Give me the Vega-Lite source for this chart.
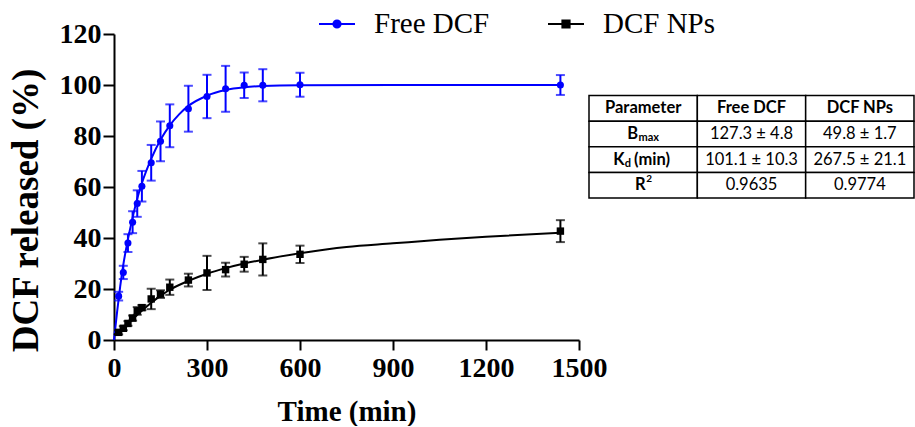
{
  "$schema": "https://vega.github.io/schema/vega-lite/v6.json",
  "background": "white",
  "padding": {"left": 7, "top": 5, "right": 0, "bottom": 0},
  "config": {"view": {"stroke": null}},
  "datasets": {
    "points": [
      {"series": "Free DCF", "t": 15, "v": 17.2, "sd": 1.7},
      {"series": "Free DCF", "t": 30, "v": 26.5, "sd": 2.6},
      {"series": "Free DCF", "t": 45, "v": 38.0, "sd": 3.5},
      {"series": "Free DCF", "t": 60, "v": 46.2, "sd": 4.3},
      {"series": "Free DCF", "t": 75, "v": 53.5, "sd": 5.2},
      {"series": "Free DCF", "t": 90, "v": 60.3, "sd": 6.0},
      {"series": "Free DCF", "t": 120, "v": 69.5, "sd": 7.0},
      {"series": "Free DCF", "t": 150, "v": 77.9, "sd": 7.8},
      {"series": "Free DCF", "t": 180, "v": 84.0, "sd": 8.4},
      {"series": "Free DCF", "t": 240, "v": 90.7, "sd": 9.0},
      {"series": "Free DCF", "t": 300, "v": 95.5, "sd": 8.5},
      {"series": "Free DCF", "t": 360, "v": 98.5, "sd": 9.0},
      {"series": "Free DCF", "t": 420, "v": 99.9, "sd": 5.0},
      {"series": "Free DCF", "t": 480, "v": 99.9, "sd": 6.3},
      {"series": "Free DCF", "t": 600, "v": 100.1, "sd": 4.7},
      {"series": "Free DCF", "t": 1440, "v": 100.0, "sd": 3.9},
      {"series": "DCF NPs", "t": 15, "v": 3.0, "sd": 0.8},
      {"series": "DCF NPs", "t": 30, "v": 4.6, "sd": 0.8},
      {"series": "DCF NPs", "t": 45, "v": 6.5, "sd": 0.9},
      {"series": "DCF NPs", "t": 60, "v": 8.6, "sd": 1.0},
      {"series": "DCF NPs", "t": 75, "v": 11.4, "sd": 1.5},
      {"series": "DCF NPs", "t": 90, "v": 12.7, "sd": 1.0},
      {"series": "DCF NPs", "t": 120, "v": 16.1, "sd": 4.0},
      {"series": "DCF NPs", "t": 150, "v": 18.0, "sd": 1.5},
      {"series": "DCF NPs", "t": 180, "v": 20.7, "sd": 3.0},
      {"series": "DCF NPs", "t": 240, "v": 23.5, "sd": 2.5},
      {"series": "DCF NPs", "t": 300, "v": 26.3, "sd": 6.7},
      {"series": "DCF NPs", "t": 360, "v": 27.6, "sd": 2.7},
      {"series": "DCF NPs", "t": 420, "v": 29.7, "sd": 2.9},
      {"series": "DCF NPs", "t": 480, "v": 31.6, "sd": 6.3},
      {"series": "DCF NPs", "t": 600, "v": 33.6, "sd": 3.4},
      {"series": "DCF NPs", "t": 1440, "v": 42.7, "sd": 4.3}
    ],
    "curve": [
      {"series": "Free DCF", "t": 0, "v": 0},
      {"series": "Free DCF", "t": 10, "v": 11},
      {"series": "Free DCF", "t": 20, "v": 21},
      {"series": "Free DCF", "t": 30, "v": 29.5},
      {"series": "Free DCF", "t": 45, "v": 39.5},
      {"series": "Free DCF", "t": 60, "v": 48},
      {"series": "Free DCF", "t": 75, "v": 55.5},
      {"series": "Free DCF", "t": 90, "v": 61.5},
      {"series": "Free DCF", "t": 120, "v": 71},
      {"series": "Free DCF", "t": 150, "v": 78.5},
      {"series": "Free DCF", "t": 180, "v": 84.2},
      {"series": "Free DCF", "t": 210, "v": 88.5},
      {"series": "Free DCF", "t": 240, "v": 91.8},
      {"series": "Free DCF", "t": 300, "v": 95.8},
      {"series": "Free DCF", "t": 360, "v": 98},
      {"series": "Free DCF", "t": 420, "v": 99.1},
      {"series": "Free DCF", "t": 480, "v": 99.6},
      {"series": "Free DCF", "t": 600, "v": 99.9},
      {"series": "Free DCF", "t": 900, "v": 100},
      {"series": "Free DCF", "t": 1440, "v": 100},
      {"series": "DCF NPs", "t": 0, "v": 2},
      {"series": "DCF NPs", "t": 15, "v": 3.3},
      {"series": "DCF NPs", "t": 30, "v": 4.8},
      {"series": "DCF NPs", "t": 45, "v": 6.5},
      {"series": "DCF NPs", "t": 60, "v": 8.2},
      {"series": "DCF NPs", "t": 90, "v": 11.5},
      {"series": "DCF NPs", "t": 120, "v": 14.6},
      {"series": "DCF NPs", "t": 150, "v": 17.3},
      {"series": "DCF NPs", "t": 180, "v": 19.7},
      {"series": "DCF NPs", "t": 240, "v": 23.2},
      {"series": "DCF NPs", "t": 300, "v": 26},
      {"series": "DCF NPs", "t": 360, "v": 28.2},
      {"series": "DCF NPs", "t": 420, "v": 30},
      {"series": "DCF NPs", "t": 480, "v": 31.5},
      {"series": "DCF NPs", "t": 600, "v": 34},
      {"series": "DCF NPs", "t": 750, "v": 36.5},
      {"series": "DCF NPs", "t": 900, "v": 37.9},
      {"series": "DCF NPs", "t": 1050, "v": 39.3},
      {"series": "DCF NPs", "t": 1200, "v": 40.5},
      {"series": "DCF NPs", "t": 1440, "v": 42.1}
    ],
    "table": [
      {"col": 0, "col2": 1, "row": 0, "row2": 1, "label": "Parameter"},
      {"col": 1, "col2": 2, "row": 0, "row2": 1, "label": "Free DCF"},
      {"col": 2, "col2": 3, "row": 0, "row2": 1, "label": "DCF NPs"},
      {"col": 0, "col2": 1, "row": 1, "row2": 2, "label": "B", "sub": "max"},
      {"col": 1, "col2": 2, "row": 1, "row2": 2, "label": "127.3 ± 4.8"},
      {"col": 2, "col2": 3, "row": 1, "row2": 2, "label": "49.8 ± 1.7"},
      {"col": 0, "col2": 1, "row": 2, "row2": 3, "label": "K", "sub": "d", "suffix": "(min)"},
      {"col": 1, "col2": 2, "row": 2, "row2": 3, "label": "101.1 ± 10.3"},
      {"col": 2, "col2": 3, "row": 2, "row2": 3, "label": "267.5 ± 21.1"},
      {"col": 0, "col2": 1, "row": 3, "row2": 4, "label": "R", "sup": "2"},
      {"col": 1, "col2": 2, "row": 3, "row2": 4, "label": "0.9635"},
      {"col": 2, "col2": 3, "row": 3, "row2": 4, "label": "0.9774"}
    ]
  },
  "bounds": "flush",
  "spacing": 10,
  "hconcat": [
    {
      "width": 465,
      "height": 306,
      "encoding": {
        "x": {"field": "t", "type": "quantitative",
          "scale": {"domain": [0, 1500], "nice": false},
          "axis": {"values": [0, 300, 600, 900, 1200, 1500], "format": "d", "title": "Time (min)", "grid": false,
            "labelFont": "Liberation Serif", "labelFontWeight": "bold", "labelFontSize": 28, "labelColor": "black",
            "titleFont": "Liberation Serif", "titleFontWeight": "bold", "titleFontSize": 29, "titleColor": "black",
            "domainColor": "black", "domainWidth": 2, "tickColor": "black", "tickWidth": 2, "tickSize": 10,
            "labelPadding": 4, "titlePadding": 15, "labelFlush": false, "labelOverlap": false}},
        "y": {"field": "v", "type": "quantitative",
          "scale": {"domain": [0, 120], "nice": false},
          "axis": {"values": [0, 20, 40, 60, 80, 100, 120], "title": "DCF released (%)", "grid": false,
            "labelFont": "Liberation Serif", "labelFontWeight": "bold", "labelFontSize": 28, "labelColor": "black",
            "titleFont": "Liberation Serif", "titleFontWeight": "bold", "titleFontSize": 37, "titleColor": "black",
            "titleY": 176,
            "domainColor": "black", "domainWidth": 2, "tickColor": "black", "tickWidth": 2, "tickSize": 11,
            "labelPadding": 2, "titlePadding": 14, "labelFlush": false, "labelOverlap": false}},
        "color": {"field": "series", "type": "nominal",
          "scale": {"domain": ["Free DCF", "DCF NPs"], "range": ["#0000ff", "#000000"]},
          "legend": {"orient": "none", "legendX": 204, "legendY": -29, "direction": "horizontal", "title": null,
            "labelFont": "Liberation Serif", "labelFontSize": 29, "labelColor": "black",
            "symbolSize": 1296, "labelOffset": 18, "columnPadding": 54, "symbolStrokeWidth": 2,
            "encode": {"symbols": {"update": {
              "shape": {"signal": "datum.value === 'Free DCF' ? 'M-1,0H1M-0.2,0A0.2,0.2 0 1,0 0.2,0A0.2,0.2 0 1,0 -0.2,0Z' : 'M-1,0H1M-0.2,-0.2H0.2V0.2H-0.2Z'"},
              "stroke": {"scale": "color", "field": "value"},
              "fill": {"scale": "color", "field": "value"},
              "strokeWidth": {"value": 2}}}}}}
      },
      "layer": [
        {"data": {"name": "curve"}, "mark": {"type": "line", "strokeWidth": 2, "interpolate": "monotone"}},
        {"data": {"name": "points"}, "mark": {"type": "errorbar", "thickness": 2, "ticks": {"size": 9, "thickness": 2}},
          "encoding": {"yError": {"field": "sd"}}},
        {"data": {"name": "points"}, "transform": [{"filter": "datum.series === 'Free DCF'"}],
          "mark": {"type": "point", "shape": "circle", "filled": true, "opacity": 1, "size": 50}},
        {"data": {"name": "points"}, "transform": [{"filter": "datum.series === 'DCF NPs'"}],
          "mark": {"type": "point", "shape": "square", "filled": true, "opacity": 1, "size": 55}}
      ]
    },
    {
      "width": 325,
      "height": 164,
      "data": {"name": "table"},
      "encoding": {
        "x": {"field": "col", "type": "quantitative", "scale": {"domain": [0, 3], "nice": false}, "axis": null},
        "y": {"field": "row", "type": "quantitative", "scale": {"domain": [-2.4, 4], "nice": false, "zero": false, "reverse": true}, "axis": null}
      },
      "layer": [
        {"mark": {"type": "rect", "fill": "white", "stroke": "black", "strokeWidth": 1.5},
          "encoding": {"x2": {"field": "col2"}, "y2": {"field": "row2"}}},
        {"transform": [{"filter": "datum.row === 0"}],
          "mark": {"type": "text", "font": "Lato", "fontWeight": "bold", "fontSize": 16.5, "color": "black", "align": "center", "baseline": "middle", "dx": 54.2, "dy": 12.8},
          "encoding": {"text": {"field": "label"}}},
        {"transform": [{"filter": "datum.row > 0 && datum.col > 0"}],
          "mark": {"type": "text", "font": "Lato", "fontSize": 16.5, "color": "black", "align": "center", "baseline": "middle", "dx": 54.2, "dy": 12.8},
          "encoding": {"text": {"field": "label"}}},
        {"transform": [{"filter": "datum.row === 1 && datum.col === 0"}],
          "mark": {"type": "text", "font": "Lato", "fontWeight": "bold", "fontSize": 16.5, "color": "black", "align": "right", "baseline": "middle", "dx": 49.2, "dy": 12.8},
          "encoding": {"text": {"field": "label"}}},
        {"transform": [{"filter": "datum.row === 1 && datum.col === 0"}],
          "mark": {"type": "text", "font": "Lato", "fontWeight": "bold", "fontSize": 11, "color": "black", "align": "left", "baseline": "middle", "dx": 49.5, "dy": 17.3},
          "encoding": {"text": {"field": "sub"}}},
        {"transform": [{"filter": "datum.row === 2 && datum.col === 0"}],
          "mark": {"type": "text", "font": "Lato", "fontWeight": "bold", "fontSize": 16.5, "color": "black", "align": "right", "baseline": "middle", "dx": 35.5, "dy": 12.8},
          "encoding": {"text": {"field": "label"}}},
        {"transform": [{"filter": "datum.row === 2 && datum.col === 0"}],
          "mark": {"type": "text", "font": "Lato", "fontWeight": "bold", "fontSize": 11, "color": "black", "align": "left", "baseline": "middle", "dx": 35.8, "dy": 17.3},
          "encoding": {"text": {"field": "sub"}}},
        {"transform": [{"filter": "datum.row === 2 && datum.col === 0"}],
          "mark": {"type": "text", "font": "Lato", "fontWeight": "bold", "fontSize": 16.5, "color": "black", "align": "left", "baseline": "middle", "dx": 45, "dy": 12.8},
          "encoding": {"text": {"field": "suffix"}}},
        {"transform": [{"filter": "datum.row === 3 && datum.col === 0"}],
          "mark": {"type": "text", "font": "Lato", "fontWeight": "bold", "fontSize": 16.5, "color": "black", "align": "right", "baseline": "middle", "dx": 56.5, "dy": 12.8},
          "encoding": {"text": {"field": "label"}}},
        {"transform": [{"filter": "datum.row === 3 && datum.col === 0"}],
          "mark": {"type": "text", "font": "Lato", "fontWeight": "bold", "fontSize": 10, "color": "black", "align": "left", "baseline": "middle", "dx": 57.2, "dy": 6.8},
          "encoding": {"text": {"field": "sup"}}}
      ]
    }
  ]
}
